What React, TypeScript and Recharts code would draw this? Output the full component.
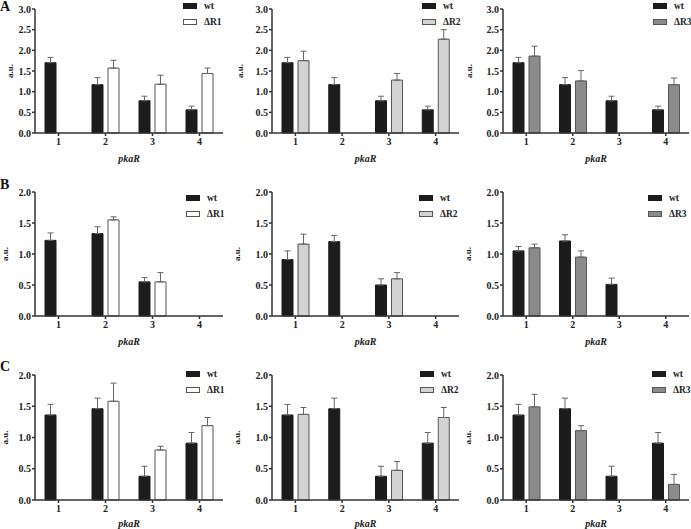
import { BarChart, Bar, XAxis, YAxis, ErrorBar, Legend } from 'recharts';

const categories = ['1', '2', '3', '4'];

// row A
const wtA = [1.7, 1.17, 0.78, 0.56];
const wtAErr = [0.13, 0.17, 0.11, 0.09];
const r1A = [null, 1.57, 1.18, 1.44];
const r1AErr = [null, 0.19, 0.22, 0.13];
const r2A = [1.75, null, 1.28, 2.27];
const r2AErr = [0.23, null, 0.16, 0.23];
const r3A = [1.86, 1.26, null, 1.17];
const r3AErr = [0.24, 0.25, null, 0.16];

// row B
const wtB1 = [1.22, 1.33, 0.55, null];
const wtB1Err = [0.12, 0.11, 0.07, null];
const r1B = [null, 1.55, 0.55, null];
const r1BErr = [null, 0.05, 0.15, null];
const wtB2 = [0.91, 1.2, 0.5, null];
const wtB2Err = [0.14, 0.1, 0.1, null];
const r2B = [1.16, null, 0.6, null];
const r2BErr = [0.16, null, 0.1, null];
const wtB3 = [1.05, 1.21, 0.51, null];
const wtB3Err = [0.07, 0.1, 0.1, null];
const r3B = [1.1, 0.95, null, null];
const r3BErr = [0.06, 0.1, null, null];

// row C
const wtC = [1.36, 1.46, 0.38, 0.91];
const wtCErr = [0.17, 0.17, 0.16, 0.17];
const r1C = [null, 1.58, 0.8, 1.19];
const r1CErr = [null, 0.29, 0.06, 0.13];
const r2C = [1.37, null, 0.475, 1.32];
const r2CErr = [0.11, null, 0.14, 0.16];
const r3C = [1.49, 1.11, null, 0.25];
const r3CErr = [0.2, 0.08, null, 0.16];

const ticks3 = [0, 0.5, 1, 1.5, 2, 2.5, 3];
const ticks2 = [0, 0.5, 1, 1.5, 2];

const serif = '"Liberation Serif", "Times New Roman", serif';
const axisColor = '#333';
const wtColor = '#1c1c1c';
const fills = { R1: '#ffffff', R2: '#d3d3d3', R3: '#8b8b8b' };

function buildData(wt: any[], wtErr: any[], mut: any[], mutErr: any[]) {
  return categories.map((c, i) => ({
    pkaR: c,
    wt: wt[i],
    wtErr: wt[i] == null ? null : [0, wtErr[i]],
    mut: mut[i],
    mutErr: mut[i] == null ? null : [0, mutErr[i]],
  }));
}

function LegendBox({ name, fill }: { name: string; fill: string }) {
  const row = { display: 'flex', alignItems: 'center', height: 15.5, whiteSpace: 'nowrap' as const };
  const text = { marginLeft: 7, fontFamily: serif, fontWeight: 'bold' as const, fontSize: 9.5, color: '#222' };
  return (
    <div>
      <div style={row}>
        <span style={{ flex: 'none', width: 14, height: 6, background: wtColor, border: '1px solid ' + wtColor, boxSizing: 'border-box' }} />
        <span style={text}>wt</span>
      </div>
      <div style={row}>
        <span style={{ flex: 'none', width: 14, height: 6, background: fill, border: '1px solid #555', boxSizing: 'border-box' }} />
        <span style={text}>Δ{name}</span>
      </div>
    </div>
  );
}

interface PanelProps {
  left: number;
  top: number;
  width: number;
  plotHeight: number;
  data: any[];
  mut: 'R1' | 'R2' | 'R3';
  yMax: number;
  yTicks: number[];
  legendLeft: number;
  legendTop: number;
  yLabelDx: number;
  xLabelDy?: number;
}

function Panel(p: PanelProps) {
  const tickStyle = { fontSize: 10, fontWeight: 'bold', fontFamily: serif, fill: '#222' };
  return (
    <div style={{ position: 'absolute', left: p.left, top: p.top }}>
      <BarChart
        width={p.width}
        height={9 + p.plotHeight + 50}
        data={p.data}
        margin={{ top: 9, right: 0, bottom: 0, left: 0 }}
        barSize={11}
        barGap={5}
      >
        <XAxis
          dataKey="pkaR"
          height={50}
          stroke={axisColor}
          strokeWidth={1.5}
          tickSize={3}
          tickMargin={2}
          tick={tickStyle}
          label={{ value: 'pkaR', position: 'center', dy: p.xLabelDy ?? 0, fontStyle: 'italic', fontWeight: 'bold', fontSize: 10, fontFamily: serif, fill: '#222' }}
        />
        <YAxis
          width={45}
          domain={[0, p.yMax]}
          ticks={p.yTicks}
          interval={0}
          stroke={axisColor}
          strokeWidth={1.5}
          tickSize={3}
          tickMargin={1}
          tick={tickStyle}
          tickFormatter={(v: number) => v.toFixed(1)}
          label={{ value: 'a.u.', angle: -90, position: 'center', dx: p.yLabelDx, fontWeight: 'bold', fontSize: 9, fontFamily: serif, fill: '#222' }}
        />
        <Legend
          layout="vertical"
          align="center"
          verticalAlign="middle"
          wrapperStyle={{ left: p.legendLeft, top: p.legendTop, width: 60, height: 'auto' }}
          content={() => <LegendBox name={p.mut} fill={fills[p.mut]} />}
        />
        <Bar dataKey="wt" fill={wtColor} stroke={wtColor} strokeWidth={1} isAnimationActive={false}>
          <ErrorBar dataKey="wtErr" width={3} stroke="#666" strokeWidth={1} isAnimationActive={false} />
        </Bar>
        <Bar dataKey="mut" fill={fills[p.mut]} stroke="#555" strokeWidth={1} isAnimationActive={false}>
          <ErrorBar dataKey="mutErr" width={3} stroke="#666" strokeWidth={1} isAnimationActive={false} />
        </Bar>
      </BarChart>
    </div>
  );
}

const colLeft = [-10, 227, 458];
const colWidth = [233, 232, 231];

export default function App() {
  const letter = { position: 'absolute' as const, left: 0, fontFamily: serif, fontWeight: 'bold' as const, fontSize: 14, lineHeight: '14px', color: '#111' };
  return (
    <div style={{ position: 'absolute', left: 0, top: 0, width: 691, height: 529, overflow: 'hidden', background: '#fff' }}>
      <Panel left={colLeft[0]} top={0} width={colWidth[0]} plotHeight={124} data={buildData(wtA, wtAErr, r1A, r1AErr)} mut="R1" yMax={3} yTicks={ticks3} legendLeft={193} legendTop={-1.5} yLabelDx={-2.5} />
      <Panel left={colLeft[1]} top={0} width={colWidth[1]} plotHeight={124} data={buildData(wtA, wtAErr, r2A, r2AErr)} mut="R2" yMax={3} yTicks={ticks3} legendLeft={195} legendTop={-1.5} yLabelDx={-9.5} />
      <Panel left={colLeft[2]} top={0} width={colWidth[2]} plotHeight={124} data={buildData(wtA, wtAErr, r3A, r3AErr)} mut="R3" yMax={3} yTicks={ticks3} legendLeft={195} legendTop={-1.5} yLabelDx={-11.5} />

      <Panel left={colLeft[0]} top={183} width={colWidth[0]} plotHeight={124} data={buildData(wtB1, wtB1Err, r1B, r1BErr)} mut="R1" yMax={2} yTicks={ticks2} legendLeft={196} legendTop={7.5} yLabelDx={-8} />
      <Panel left={colLeft[1]} top={183} width={colWidth[1]} plotHeight={124} data={buildData(wtB2, wtB2Err, r2B, r2BErr)} mut="R2" yMax={2} yTicks={ticks2} legendLeft={192} legendTop={7.5} yLabelDx={-12.5} />
      <Panel left={colLeft[2]} top={183} width={colWidth[2]} plotHeight={124} data={buildData(wtB3, wtB3Err, r3B, r3BErr)} mut="R3" yMax={2} yTicks={ticks2} legendLeft={190} legendTop={7.5} yLabelDx={-12.5} />

      <Panel left={colLeft[0]} top={366} width={colWidth[0]} plotHeight={125} data={buildData(wtC, wtCErr, r1C, r1CErr)} mut="R1" yMax={2} yTicks={ticks2} legendLeft={196} legendTop={0.5} yLabelDx={-8} xLabelDy={-2} />
      <Panel left={colLeft[1]} top={366} width={colWidth[1]} plotHeight={125} data={buildData(wtC, wtCErr, r2C, r2CErr)} mut="R2" yMax={2} yTicks={ticks2} legendLeft={193} legendTop={0.5} yLabelDx={-12.5} xLabelDy={-2} />
      <Panel left={colLeft[2]} top={366} width={colWidth[2]} plotHeight={125} data={buildData(wtC, wtCErr, r3C, r3CErr)} mut="R3" yMax={2} yTicks={ticks2} legendLeft={194} legendTop={0.5} yLabelDx={-12.5} xLabelDy={-2} />

      <div style={{ ...letter, top: 0 }}>A</div>
      <div style={{ ...letter, top: 178 }}>B</div>
      <div style={{ ...letter, top: 360 }}>C</div>
    </div>
  );
}
